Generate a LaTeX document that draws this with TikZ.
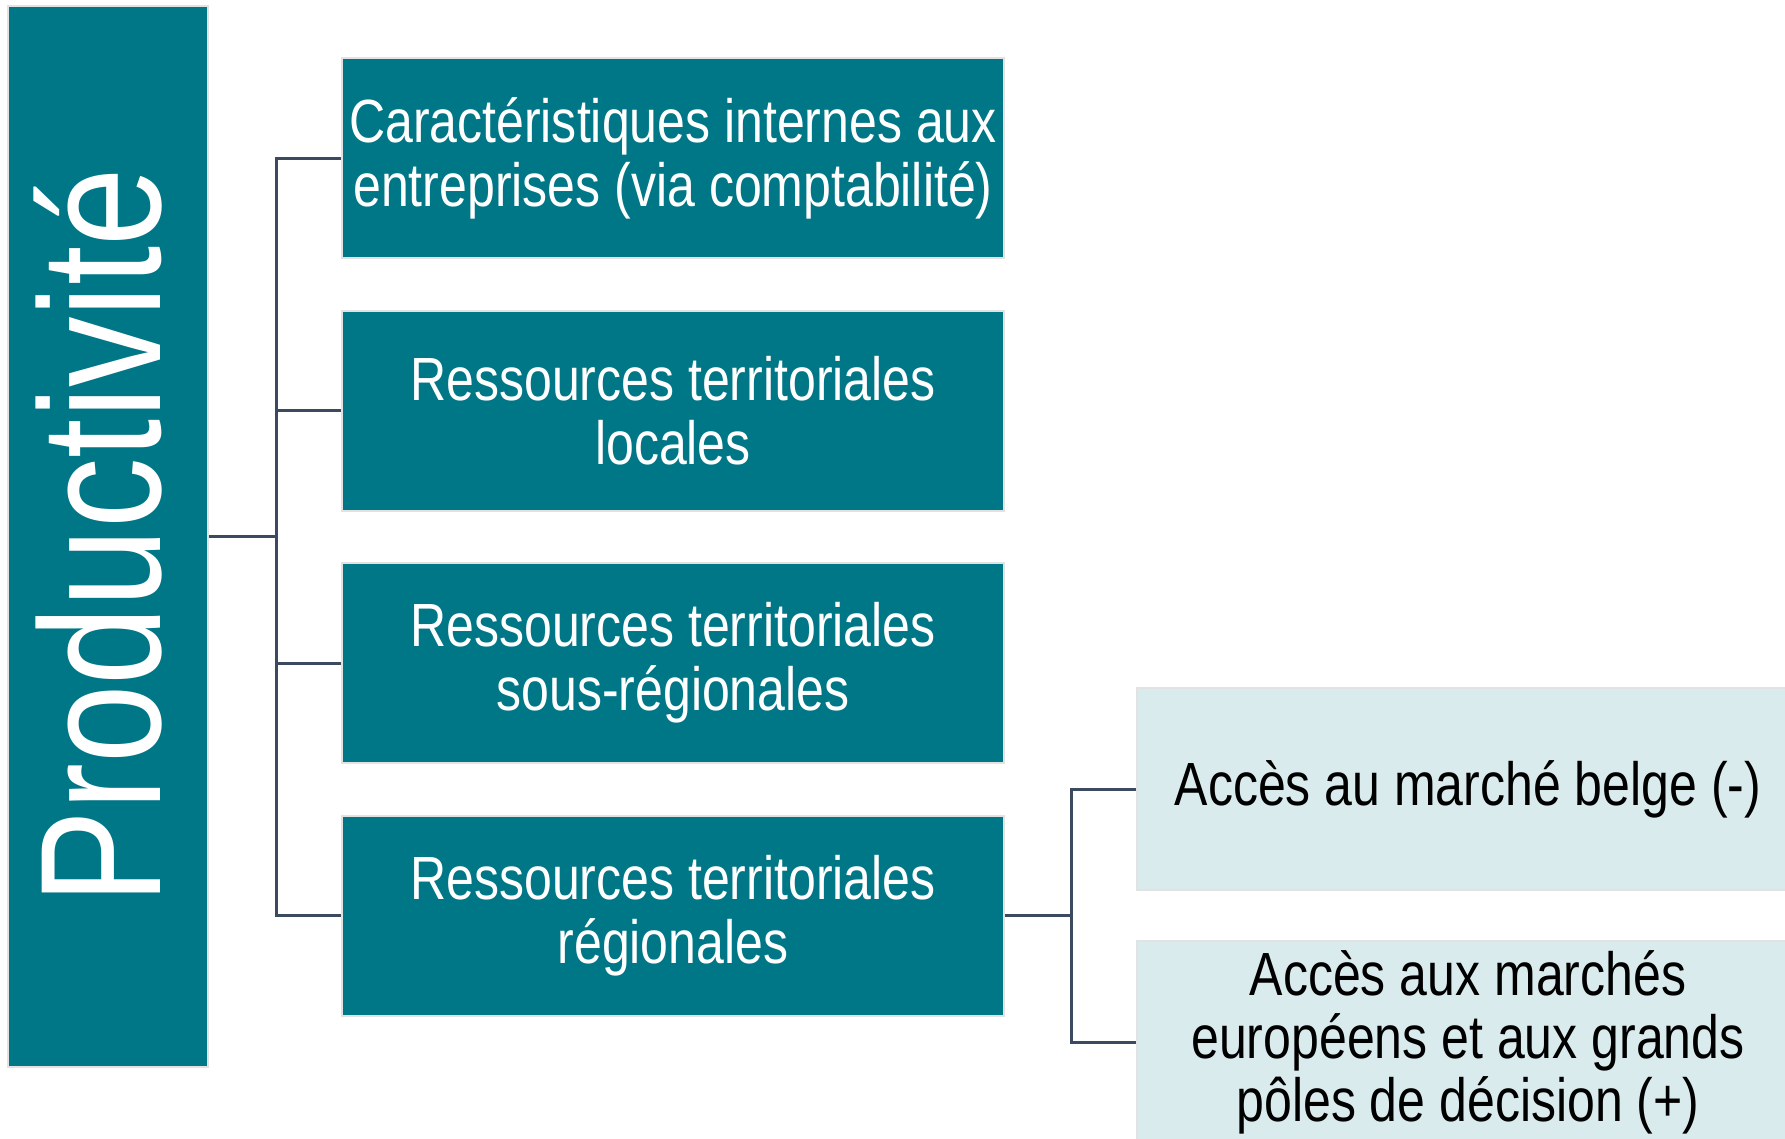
\documentclass[tikz,border=0pt]{standalone}
\usepackage{fontspec}
\setmainfont[FakeStretch=0.82]{Liberation Sans}
\definecolor{teal}{HTML}{007786}
\definecolor{pale}{HTML}{DAEBEE}
\definecolor{edge}{HTML}{E2E2E2}
\definecolor{wire}{HTML}{3C4A5F}
\begin{document}
\begin{tikzpicture}[x=1pt,y=-1pt,
  darkbox/.style={rectangle, fill=teal, draw=edge, line width=2pt, text=white,
    minimum width=662pt, minimum height=200pt, align=center, inner sep=0pt,
    font=\fontsize{61}{64}\selectfont},
  palebox/.style={rectangle, fill=pale, draw=edge, line width=2pt, text=black,
    minimum width=662pt, minimum height=202pt, align=center, inner sep=0pt,
    font=\fontsize{61}{63}\selectfont},
  wireline/.style={draw=wire, line width=3pt}]
\useasboundingbox (0,0) rectangle (1785,1138);
\clip (0,0) rectangle (1785,1138);
\node[rectangle, fill=teal, draw=edge, line width=2pt,
  minimum width=200pt, minimum height=1061pt, inner sep=0pt] (main) at (108,536.5) {};
\node[rotate=90, text=white, inner sep=0pt,
  font=\fontsize{172}{180}\selectfont] (maintext) at (98,536.5) {Productivité};
\node[darkbox] (c1) at (673,158) {Caractéristiques internes aux\\entreprises (via comptabilité)};
\node[darkbox] (c2) at (673,410.5) {Ressources territoriales\\locales};
\node[darkbox] (c3) at (673,663) {Ressources territoriales\\sous-régionales};
\node[darkbox] (c4) at (673,915.5) {Ressources territoriales\\régionales};
\node[palebox] (r1) at (1468,789) {Accès au marché belge (-)};
\node[palebox] (r2) at (1468,1042) {Accès aux marchés\\européens et aux grands\\pôles de décision (+)};
\coordinate (j1) at (276,536.5);
\coordinate (j2) at (1071,915.5);
\draw[wireline] (main.east) -- (j1);
\draw[wireline] (j1) |- (c1.west);
\draw[wireline] (j1) |- (c2.west);
\draw[wireline] (j1) |- (c3.west);
\draw[wireline] (j1) |- (c4.west);
\draw[wireline] (c4.east) -- (j2);
\draw[wireline] (j2) |- (r1.west);
\draw[wireline] (j2) |- (r2.west);
\end{tikzpicture}
\end{document}
